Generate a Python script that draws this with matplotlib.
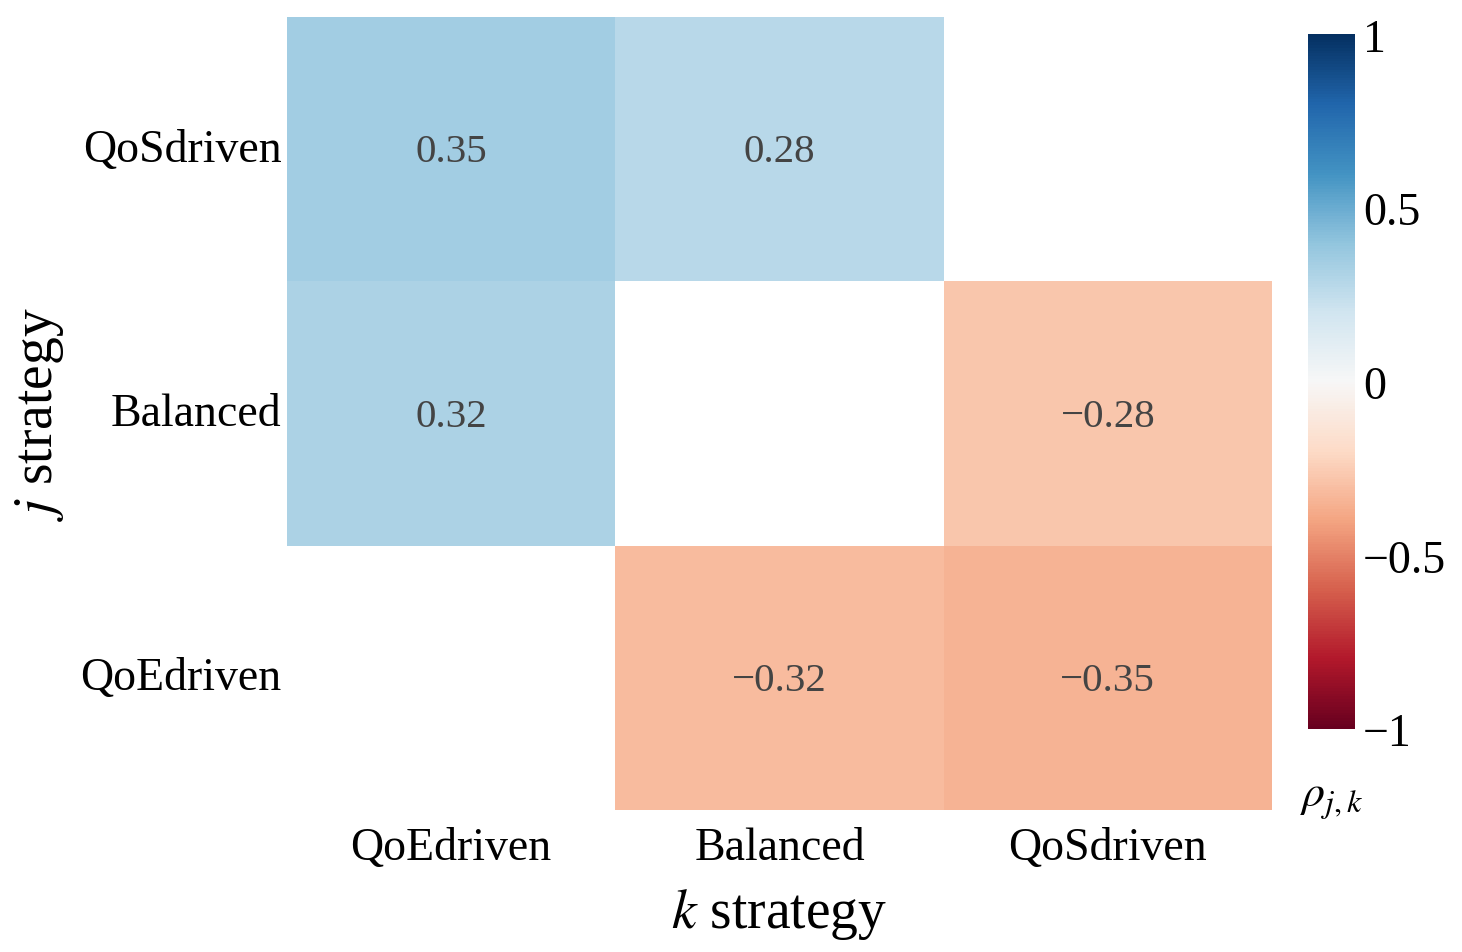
import numpy as np
import matplotlib
matplotlib.use("Agg")
import matplotlib.pyplot as plt
import seaborn as sns

# Correlation between strategies (NaN = hidden cell)
row_labels = ["QoSdriven", "Balanced", "QoEdriven"]
col_labels = ["QoEdriven", "Balanced", "QoSdriven"]
rho = np.array([
    [0.35, 0.28, np.nan],
    [0.32, np.nan, -0.28],
    [np.nan, -0.32, -0.35],
])

plt.rcParams.update({
    "font.family": ["Liberation Serif", "DejaVu Serif"],
    "mathtext.fontset": "stix",
    "axes.unicode_minus": True,
})

fig = plt.figure(figsize=(14.62, 9.53), dpi=100)
ax = fig.add_axes([0.1963, 0.149, 0.6737, 0.832])
cax = fig.add_axes([0.8947, 0.234, 0.032, 0.729])

sns.heatmap(
    rho, ax=ax, cbar_ax=cax, cmap="RdBu", vmin=-1, vmax=1,
    annot=True, fmt=".2f",
    annot_kws={"fontsize": 29.5, "color": "#444444"},
    xticklabels=col_labels, yticklabels=row_labels,
)

# proper minus signs in annotations, nudged slightly down like the original
for t in ax.texts:
    t.set_text(t.get_text().replace("-", "\u2212"))
    x, y = t.get_position()
    t.set_position((x, y + 0.01))

ax.tick_params(axis="both", length=0, labelsize=33, pad=4)
ax.tick_params(axis="x", pad=12)
plt.setp(ax.get_yticklabels(), rotation=0)
ax.set_xlabel("$k$ strategy", fontsize=40, labelpad=12)
ax.set_ylabel("$j$ strategy", fontsize=40, labelpad=10)

cbar = ax.collections[0].colorbar
cbar.set_ticks([-1, -0.5, 0, 0.5, 1])
cbar.set_ticklabels(["\u22121", "\u22120.5", "0", "0.5", "1"])
cbar.outline.set_visible(False)
cax.tick_params(length=0, labelsize=33, pad=6)
cax.set_xlabel(r"$\rho_{j,k}$", fontsize=33, labelpad=36)

fig.savefig("out.png", dpi=100, facecolor="white")
